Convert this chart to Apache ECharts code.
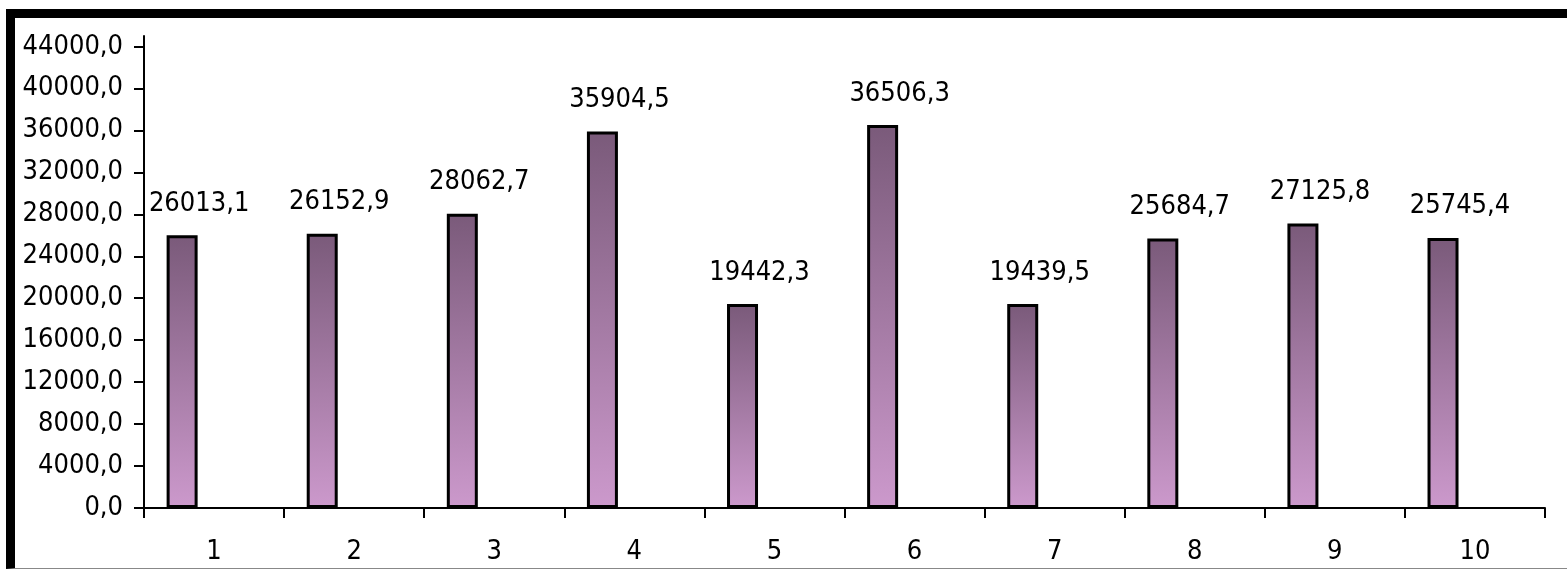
<!DOCTYPE html>
<html>
<head>
<meta charset="utf-8">
<script src="https://cdn.jsdelivr.net/npm/echarts@6/dist/echarts.min.js"></script>
<style>
html,body{margin:0;padding:0;background:#fff;}
#chart{position:absolute;left:0;top:0;width:1567px;height:570px;}
#frame{position:absolute;left:6px;top:9px;width:1600px;height:550px;border-top:9px solid #000;border-left:9px solid #000;border-bottom:1px solid #888;pointer-events:none;}
</style>
</head>
<body>
<div id="chart"></div>
<div id="frame"></div>
<script>
const categories = ['1','2','3','4','5','6','7','8','9','10'];
const values = [26013.1, 26152.9, 28062.7, 35904.5, 19442.3, 36506.3, 19439.5, 25684.7, 27125.8, 25745.4];
const yTicks = [0,4000,8000,12000,16000,20000,24000,28000,32000,36000,40000,44000];
const yMax = 45000;

const fmt = v => Number(v).toFixed(1).replace('.', ',');
const FONT = '"DejaVu Sans Condensed", "DejaVu Sans", sans-serif';

const chart = echarts.init(document.getElementById('chart'), null, {renderer:'canvas'});
chart.setOption({
  animation:false,
  backgroundColor:'#fff',
  grid:{left:144, right:22, top:36, bottom:62, containLabel:false},
  xAxis:{
    type:'category',
    data:categories,
    axisLine:{lineStyle:{color:'#000', width:2}},
    axisTick:{show:true, length:10, lineStyle:{color:'#000', width:2}},
    axisLabel:{color:'#000', fontFamily:FONT, fontSize:27, margin:30},
    splitLine:{show:false}
  },
  yAxis:{
    type:'value',
    min:0, max:yMax,
    axisLine:{show:true, lineStyle:{color:'#000', width:2}},
    axisTick:{show:true, length:10, lineStyle:{color:'#000', width:2}, customValues:yTicks},
    axisLabel:{color:'#000', fontFamily:FONT, fontSize:27, margin:21, customValues:yTicks, formatter:fmt},
    splitLine:{show:false}
  },
  series:[
    {
      type:'bar',
      data:values,
      barWidth:31,
      barGap:'106%',
      itemStyle:{
        borderColor:'#000', borderWidth:3,
        color:new echarts.graphic.LinearGradient(0,0,0,1,[
          {offset:0, color:'#7a5a7a'},
          {offset:1, color:'#cc99cc'}
        ])
      },
      label:{
        show:true, position:'top', distance:18, offset:[17,0],
        color:'#000', fontFamily:FONT, fontSize:27,
        formatter:p => fmt(p.value)
      }
    },
    {
      type:'bar',
      data:[],
      barWidth:31
    }
  ]
});
</script>
</body>
</html>
